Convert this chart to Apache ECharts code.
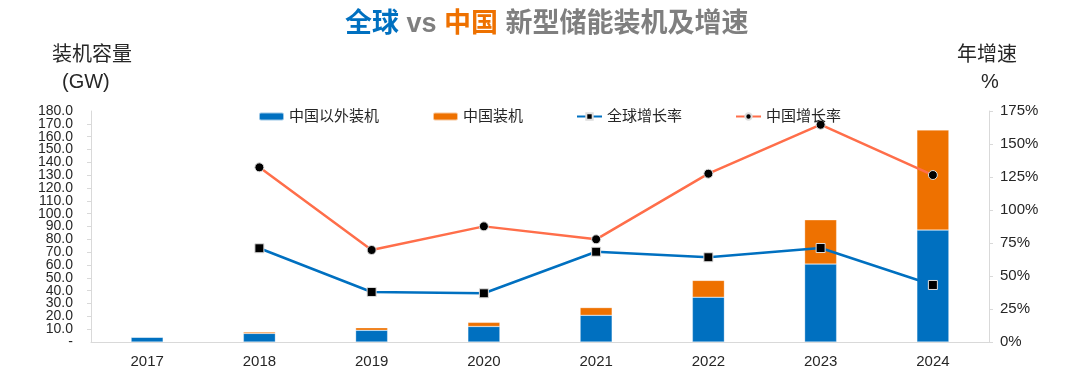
<!DOCTYPE html>
<html>
<head>
<meta charset="utf-8">
<script src="https://cdn.jsdelivr.net/npm/echarts@6/dist/echarts.min.js"></script>
<style>
html,body{margin:0;padding:0;background:#fff;}
#c{width:1080px;height:383px;}
</style>
</head>
<body>
<div id="c"></div>
<script>
const years = ['2017','2018','2019','2020','2021','2022','2023','2024'];
const outsideChina = [3.7, 6.7, 9.1, 12.1, 20.8, 34.9, 60.7, 87.2];
const chinaInstalled = [0.3, 1.1, 2.0, 3.2, 6.0, 13.1, 34.5, 78.0];
const globalGrowth = [null, 71.0, 37.9, 36.9, 68.4, 64.2, 71.2, 43.2];
const chinaGrowth = [null, 132.3, 69.7, 87.6, 77.8, 127.5, 164.6, 126.5];

const FONT = '"Liberation Sans", Arial, "Noto Sans CJK SC", sans-serif';
const leftLabel = v => v === 0 ? '-' : v.toFixed(1);
const chart = echarts.init(document.getElementById('c'));
chart.setOption({
  animation: false,
  textStyle: { fontFamily: FONT },
  title: {
    text: '{b|全球}{g| vs }{o|中国}{g| 新型储能装机及增速}',
    left: 345,
    top: 11,
    padding: 0,
    textStyle: {
      rich: {
        b: { color: '#0070C0', fontSize: 27, fontWeight: 'bold', fontFamily: FONT },
        o: { color: '#EE7100', fontSize: 27, fontWeight: 'bold', fontFamily: FONT },
        g: { color: '#7F7F7F', fontSize: 27, fontWeight: 'bold', fontFamily: FONT }
      }
    }
  },
  graphic: [
    { type: 'text', left: 52, top: 45, style: { text: '装机容量', fontSize: 20, fill: '#262626', fontFamily: FONT } },
    { type: 'text', left: 62, top: 72, style: { text: '(GW)', fontSize: 20, fill: '#262626', fontFamily: FONT } },
    { type: 'text', left: 957, top: 45, style: { text: '年增速', fontSize: 20, fill: '#262626', fontFamily: FONT } },
    { type: 'text', left: 981, top: 72, style: { text: '%', fontSize: 20, fill: '#262626', fontFamily: FONT } }
  ],
  legend: {
    left: 253,
    top: 104,
    itemWidth: 25,
    itemHeight: 8,
    itemGap: 53,
    textStyle: { fontSize: 15, color: '#262626', fontFamily: FONT },
    data: ['中国以外装机', '中国装机', '全球增长率', '中国增长率']
  },
  grid: { left: 91, right: 91, top: 111, bottom: 41 },
  xAxis: {
    type: 'category',
    data: years,
    axisLine: { lineStyle: { color: '#D9D9D9', width: 1 } },
    axisTick: { show: false },
    axisLabel: { fontSize: 15, color: '#262626', margin: 12 }
  },
  yAxis: [
    {
      type: 'value', position: 'left', min: 0, max: 180, interval: 10,
      axisLine: { show: true, lineStyle: { color: '#D9D9D9' } },
      axisTick: { show: true, length: 4, lineStyle: { color: '#D9D9D9' } },
      splitLine: { show: false },
      axisLabel: {
        fontSize: 14, color: '#262626', margin: 18,
        showMinLabel: false, showMaxLabel: false,
        formatter: leftLabel
      }
    },
    {
      type: 'value', position: 'right', min: 0, max: 175, interval: 25,
      axisLine: { show: true, lineStyle: { color: '#D9D9D9' } },
      axisTick: { show: true, length: 4, lineStyle: { color: '#D9D9D9' } },
      splitLine: { show: false },
      axisLabel: { fontSize: 15, color: '#262626', margin: 11, formatter: '{value}%' }
    },
    {
      type: 'value', position: 'left', min: 0, max: 180, interval: 180,
      axisLine: { show: false },
      axisTick: { show: false },
      splitLine: { show: false },
      axisLabel: {
        fontSize: 14, color: '#262626', margin: 18,
        showMinLabel: true, showMaxLabel: true,
        formatter: leftLabel
      }
    }
  ],
  series: [
    {
      name: '中国以外装机', type: 'bar', stack: 'total', barWidth: 32,
      itemStyle: { color: '#0070C0', borderColor: 'rgba(255,255,255,0.6)', borderWidth: 0.5 },
      data: outsideChina
    },
    {
      name: '中国装机', type: 'bar', stack: 'total', barWidth: 32,
      itemStyle: { color: '#EE7100', borderColor: 'rgba(255,255,255,0.6)', borderWidth: 0.5 },
      data: chinaInstalled
    },
    {
      name: '全球增长率', type: 'line', yAxisIndex: 1,
      symbol: 'rect', symbolSize: 9,
      lineStyle: { color: '#0070C0', width: 2.5 },
      itemStyle: { color: '#000', borderColor: '#ddd', borderWidth: 1 },
      data: globalGrowth
    },
    {
      name: '中国增长率', type: 'line', yAxisIndex: 1,
      symbol: 'circle', symbolSize: 9,
      lineStyle: { color: '#FF6E4A', width: 2.5 },
      itemStyle: { color: '#000', borderColor: '#ddd', borderWidth: 1 },
      data: chinaGrowth
    }
  ]
});
</script>
</body>
</html>
